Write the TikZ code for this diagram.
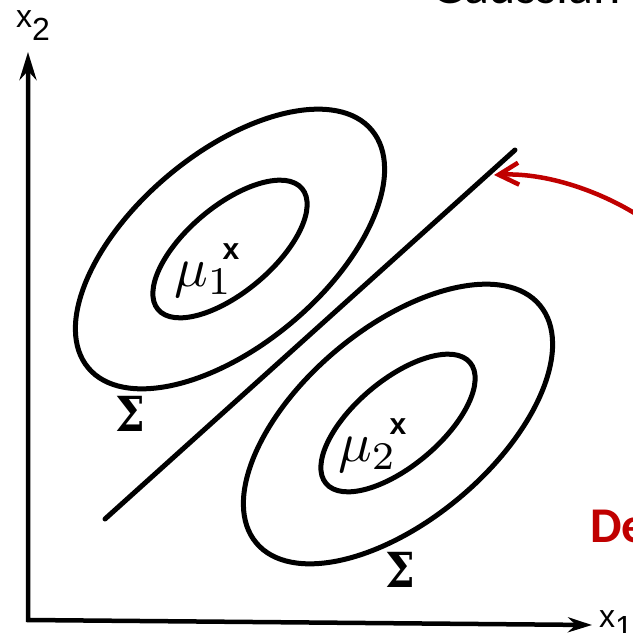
\documentclass[tikz,border=0pt]{standalone}
\usepackage{graphicx}
\usepackage{fontspec}
\newfontfamily\carlito{Carlito}
\newfontfamily\arialfont{Liberation Sans}
\newfontfamily\serifsig{DejaVu Serif}
\usetikzlibrary{arrows.meta,shapes.geometric}
\definecolor{darkred}{RGB}{192,0,0}
\newcommand{\meantext}[1]{\scalebox{5.6}{$\mu_{#1}$}}
\newcommand{\sigtext}{\scalebox{1}[1.15]{\serifsig\bfseries\fontsize{42}{42}\selectfont Σ}}
\begin{document}
\begin{tikzpicture}[x=1pt,y=-1pt,
  contour/.style={draw=black, line width=5pt, ellipse, inner sep=0pt, rotate=40},
  outerc/.style={contour, minimum width=370pt, minimum height=192pt},
  innerc/.style={contour, minimum width=188pt, minimum height=86pt},
  axisline/.style={line width=5pt, line cap=round},
  meanlbl/.style={inner sep=0pt, anchor=base west},
  sigmalbl/.style={inner sep=0pt},
  cross/.style={font=\arialfont\bfseries\fontsize{30}{30}\selectfont, inner sep=0pt},
  axislbl/.style={font=\arialfont\fontsize{32}{32}\selectfont, inner sep=0pt, anchor=base west},
  redarrow/.style={draw=darkred, line width=4.5pt, -{Straight Barb[length=20pt,width=22pt]}}
]
\path[use as bounding box] (0,0) rectangle (633,633);
\clip (0,0) rectangle (633,633);

% axes
\coordinate (O) at (28,620);
\coordinate (ytip) at (28,52);
\coordinate (xtip) at (592,625);
\draw[line width=4.5pt, line join=miter,
  {Stealth[length=28pt,width=17pt]}-{Stealth[length=24pt,width=15pt]}] (ytip) -- (O) -- (xtip);
\node[axislbl] (x2lbl) at (16,27) {x\raisebox{-13pt}{2}};
\node[axislbl] (x1lbl) at (599,627) {x\raisebox{-11pt}{1}};

% class 1
\node[outerc] (out1) at (230,249) {};
\node[innerc] (in1) at (230,249) {};
\node[cross] (c1) at (231,252) {x};
\node[meanlbl] (mu1) at (174,286) {\meantext{1}};
\node[sigmalbl] (s1) at (130,414) {\sigtext};

% class 2
\node[outerc] (out2) at (398,424) {};
\node[innerc] (in2) at (398,423) {};
\node[cross] (c2) at (398,427) {x};
\node[meanlbl] (mu2) at (338,461) {\meantext{2}};
\node[sigmalbl] (s2) at (400,570) {\sigtext};

% decision boundary
\coordinate (d1) at (105,519);
\coordinate (d2) at (515,150);
\draw[axisline] (d1) -- (d2);

% red arrow
\coordinate (r0) at (648,222);
\coordinate (rtip) at (494,175);
\draw[redarrow] (r0) .. controls (610,195) and (550,172) .. (rtip);

% partial texts
\node[font=\carlito\bfseries\fontsize{50}{50}\selectfont, text=darkred, inner sep=0pt, anchor=base west] (de) at (590,542) {De};
\node[font=\carlito\fontsize{52}{52}\selectfont, inner sep=0pt, anchor=base west] (title) at (431,3) {Gaussian};
\end{tikzpicture}
\end{document}
